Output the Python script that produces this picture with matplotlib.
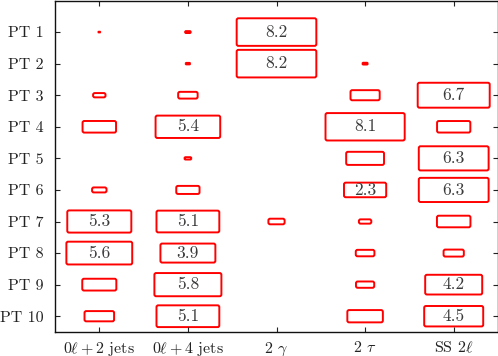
import matplotlib
matplotlib.use('Agg')
import numpy as np
import matplotlib.pyplot as plt
from matplotlib.patches import FancyBboxPatch

plt.rcParams['font.family'] = 'serif'
plt.rcParams['font.serif'] = ['cmr10', 'DejaVu Serif']
plt.rcParams['mathtext.fontset'] = 'cm'
plt.rcParams['axes.unicode_minus'] = False

# rows and columns
points = ['PT 1', 'PT 2', 'PT 3', 'PT 4', 'PT 5', 'PT 6', 'PT 7', 'PT 8', 'PT 9', 'PT 10']
channels = [r'$0\ell + 2$ jets', r'$0\ell + 4$ jets', r'2 $\gamma$', r'2 $\tau$', r'SS $2\ell$']

# one list per channel, None = no box
v_0l2j = [0.005, None, 0.2, 1.45, None, 0.27, 5.3, 5.6, 1.5, 1.13]
v_0l4j = [0.04, 0.025, 0.49, 5.4, 0.06, 0.7, 5.1, 3.9, 5.8, 5.1]
v_2g = [8.2, 8.2, None, None, None, None, 0.34, None, None, None]
v_2t = [None, 0.035, 1.1, 8.1, 1.85, 2.3, 0.2, 0.45, 0.43, 1.63]
v_ss = [None, None, 6.7, 1.43, 6.3, 6.3, 1.45, 0.53, 4.2, 4.5]
columns = [v_0l2j, v_0l4j, v_2g, v_2t, v_ss]

LABEL_MIN = 2.0
SX, SY = 0.314, 0.305   # box side per sqrt(value), data units
ASPECT = 88.6 / 31.6    # px per x unit / px per y unit

fig = plt.figure(figsize=(4.98, 3.56), dpi=100)
ax = fig.add_axes([55 / 498, 24 / 356, 443 / 498, 331.5 / 356])

for ci, vals in enumerate(columns):
    x0 = ci + 1
    for ri, v in enumerate(vals):
        if v is None:
            continue
        y0 = ri + 1
        w = SX * np.sqrt(v)
        h = SY * np.sqrt(v)
        r = min(0.02, 0.5 * w, 0.5 * h / ASPECT)
        box = FancyBboxPatch((x0 - w / 2, y0 - h / 2), w, h,
                             boxstyle='round,pad=0,rounding_size=%f' % r,
                             mutation_aspect=ASPECT,
                             facecolor='white', edgecolor='red', lw=1.4)
        ax.add_patch(box)
        if v > LABEL_MIN:
            ax.text(x0, y0, '%.1f' % v, ha='center', va='center',
                    fontsize=12.5, color='#3a3a3a')

ax.set_xlim(0.5, 5.5)
ax.set_ylim(10.5, 0)
ax.set_xticks(np.arange(1, 6))
ax.set_xticklabels(channels, fontsize=11.5)
ax.set_yticks(np.arange(1, 11))
ax.set_yticklabels(points, fontsize=11.5)
ax.tick_params(direction='in', length=3.6, width=0.8, top=True, right=True,
               color='#222222', labelcolor='#222222')
ax.tick_params(axis='x', pad=6)
ax.tick_params(axis='y', pad=8)
for s in ax.spines.values():
    s.set_linewidth(1.0)
    s.set_color('#111111')

plt.savefig('out.png', dpi=100)
